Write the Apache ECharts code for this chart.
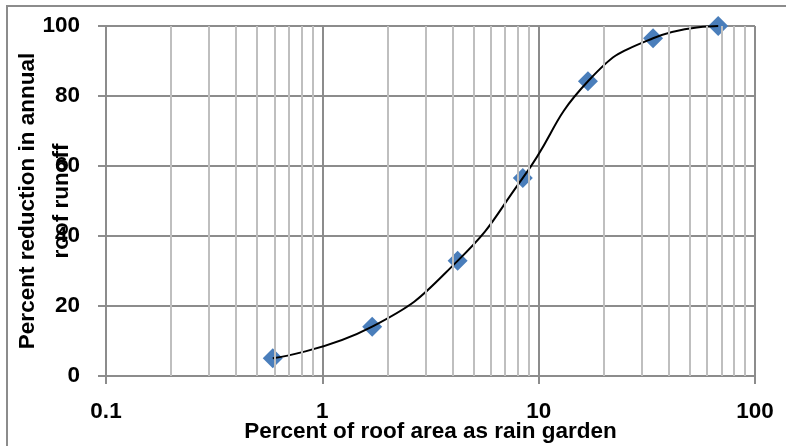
<!DOCTYPE html>
<html>
<head>
<meta charset="utf-8">
<script src="https://cdn.jsdelivr.net/npm/echarts@6/dist/echarts.min.js"></script>
<style>
html,body{margin:0;padding:0;background:#fff;}
#chart{width:786px;height:446px;}
</style>
</head>
<body>
<div id="chart"></div>
<script>
// Data
var roofAreaPct = [0.59, 1.7, 4.22, 8.45, 16.9, 33.8, 67.6];
var runoffReductionPct = [5.1, 14.1, 32.9, 56.6, 84.2, 96.5, 100];
var xTickLabels = ['0.1', '1', '10', '100'];
var xTickValues = [0.1, 1, 10, 100];
var minorGridValues = [0.2,0.3,0.4,0.5,0.6,0.7,0.8,0.9, 2,3,4,5,6,7,8,9, 20,30,40,50,60,70,80,90];

var FONT = 'Liberation Sans';
var points = roofAreaPct.map(function (x, i) { return [x, runoffReductionPct[i]]; });

var chart = echarts.init(document.getElementById('chart'));
chart.setOption({
  animation: false,
  backgroundColor: '#fff',
  grid: { left: 106, right: 31, top: 26, bottom: 70, containLabel: false, outerBoundsMode: 'none' },
  xAxis: {
    type: 'log', logBase: 10, min: 0.1, max: 100,
    name: 'Percent of roof area as rain garden',
    nameLocation: 'middle', nameGap: 44, nameMoveOverlap: false,
    nameTextStyle: { fontFamily: FONT, fontWeight: 'bold', fontSize: 22.5, color: '#000' },
    axisLine: { show: true, lineStyle: { color: '#8c8c8c', width: 2 } },
    axisTick: { show: true, length: 8, lineStyle: { color: '#8c8c8c', width: 2 } },
    axisLabel: {
      margin: 24, fontFamily: FONT, fontWeight: 'bold', fontSize: 22.5, color: '#000',
      formatter: function (v) {
        for (var i = 0; i < xTickValues.length; i++) {
          if (Math.abs(v - xTickValues[i]) < 1e-9 * Math.max(1, v)) return xTickLabels[i];
        }
        return '';
      }
    },
    splitLine: { show: true, lineStyle: { color: '#8c8c8c', width: 2 } }
  },
  yAxis: {
    type: 'value', min: 0, max: 100, interval: 20,
    name: 'Percent reduction in annual\nroof runoff',
    nameLocation: 'middle', nameGap: 27, nameRotate: 90, nameMoveOverlap: false,
    nameTextStyle: { fontFamily: FONT, fontWeight: 'bold', fontSize: 22.5, color: '#000', lineHeight: 34, align: 'center' },
    axisLine: { show: true, lineStyle: { color: '#8c8c8c', width: 2 } },
    axisTick: { show: true, length: 8, lineStyle: { color: '#8c8c8c', width: 2 } },
    axisLabel: { margin: 26, fontFamily: FONT, fontWeight: 'bold', fontSize: 22.5, color: '#000' },
    splitLine: { show: true, lineStyle: { color: '#8c8c8c', width: 2 } }
  },
  graphic: [{
    type: 'rect', silent: true, z: 100,
    shape: { x: 7, y: 6, width: 800, height: 460 },
    style: { fill: 'none', stroke: '#8c8c8c', lineWidth: 2 }
  }],
  series: [
    {
      type: 'line', data: [], silent: true, z: 1,
      markLine: {
        silent: true, symbol: 'none', animation: false,
        label: { show: false },
        lineStyle: { color: '#bfbfbf', width: 2, type: 'solid' },
        data: minorGridValues.map(function (v) { return { xAxis: v }; })
      }
    },
    {
      type: 'scatter', data: points, z: 3,
      symbol: 'diamond', symbolSize: 20,
      itemStyle: { color: '#4a7ebb', opacity: 1 }
    },
    {
      type: 'line', data: points, z: 4,
      smooth: 0.5, showSymbol: false, symbol: 'none',
      lineStyle: { color: '#000', width: 2 }
    }
  ]
});
</script>
</body>
</html>
